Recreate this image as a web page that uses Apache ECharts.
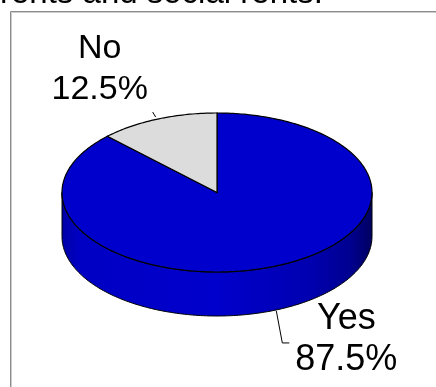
<!DOCTYPE html>
<html>
<head>
<meta charset="utf-8">
<style>
  html, body { margin: 0; padding: 0; background: #ffffff; }
  #chart { width: 436px; height: 387px; }
</style>
<script src="https://cdn.jsdelivr.net/npm/echarts@6/dist/echarts.min.js"></script>
</head>
<body>
<div id="chart"></div>
<script>
// Survey answers (share of respondents, %)
const categories = ['Yes', 'No'];
const shares = [87.5, 12.5];

// Pie drawing settings
const sliceColors = { Yes: '#0000CC', No: '#DCDCDC' };
const pie = { cx: 217, cy: 192.5, rx: 155, ry: 79.5, depth: 44 };
// label placement relative to the slice's anchor point
const labelOffset = { Yes: [70, 30], No: [-58, -50] };
const labelSize = { Yes: 36, No: 34 };
const leaderPath = { Yes: [[0, 1], [6, 33], [13, 33]], No: [[-2, -2], [-5, -7]] };

const total = shares.reduce((a, b) => a + b, 0);
const starts = [];
shares.reduce((acc, v, i) => { starts[i] = acc; return acc + v; }, 0);

// angle in degrees, clockwise from 12 o'clock
function ellipsePt(deg, dy) {
  const r = deg * Math.PI / 180;
  return [pie.cx + pie.rx * Math.sin(r), pie.cy - pie.ry * Math.cos(r) + (dy || 0)];
}
function arc(a, b, dy) {
  const pts = [];
  const n = Math.max(2, Math.ceil(Math.abs(b - a)));
  for (let k = 0; k <= n; k++) pts.push(ellipsePt(a + (b - a) * k / n, dy));
  return pts;
}

const chart = echarts.init(document.getElementById('chart'), null, { renderer: 'canvas' });

const sideFill = new echarts.graphic.LinearGradient(pie.cx - pie.rx, 0, pie.cx + pie.rx, 0, [
  { offset: 0, color: '#0000A8' },
  { offset: 0.06, color: '#0000C4' },
  { offset: 0.5, color: '#0000CC' },
  { offset: 0.8, color: '#0000B0' },
  { offset: 0.93, color: '#000090' },
  { offset: 1, color: '#000060' }
], true);

function renderItem(params, api) {
  const i = params.dataIndex;
  const name = categories[i];
  const value = api.value(1);
  const a0 = starts[i] / total * 360;
  const a1 = (starts[i] + value) / total * 360;
  const children = [];

  // front wall: only the part facing the viewer (90°..270°)
  const s0 = Math.max(a0, 90), s1 = Math.min(a1, 270);
  if (s1 > s0) {
    const top = arc(s0, s1, 0);
    const bottom = arc(s1, s0, pie.depth);
    children.push({
      type: 'polygon',
      shape: { points: top.concat(bottom) },
      style: { fill: sideFill, stroke: '#000000', lineWidth: 1 }
    });
  }

  // top face
  children.push({
    type: 'polygon',
    shape: { points: [[pie.cx, pie.cy]].concat(arc(a0, a1, 0)) },
    style: { fill: sliceColors[name], stroke: '#000000', lineWidth: 1.2 }
  });

  // label anchor at the mid angle, on the bottom rim when the rim faces us
  const mid = (a0 + a1) / 2;
  const front = mid > 90 && mid < 270;
  const anchor = ellipsePt(mid, front ? pie.depth : 0);
  children.push({
    type: 'polyline',
    shape: { points: leaderPath[name].map(p => [anchor[0] + p[0], anchor[1] + p[1]]) },
    style: { stroke: '#000000', lineWidth: 1, fill: null }
  });
  children.push({
    type: 'text',
    x: anchor[0] + labelOffset[name][0],
    y: anchor[1] + labelOffset[name][1],
    style: {
      text: name + '\n' + value.toFixed(1) + '%',
      font: labelSize[name] + 'px "Liberation Sans", Arial, sans-serif',
      fill: '#000000',
      align: 'center',
      verticalAlign: 'middle',
      lineHeight: 41
    }
  });

  return { type: 'group', children: children };
}

chart.setOption({
  animation: false,
  backgroundColor: '#ffffff',
  graphic: [
    {
      type: 'text', x: 0, y: -6,
      style: {
        text: 'rents and social rents.',
        font: '33px "Liberation Sans", Arial, sans-serif',
        fill: '#000000',
        verticalAlign: 'middle'
      }
    },
    {
      type: 'rect', shape: { x: 10.5, y: 11.5, width: 500, height: 500 },
      style: { fill: null, stroke: '#8C8C8C', lineWidth: 1 }
    },
    {
      type: 'rect', shape: { x: 11.5, y: 12.5, width: 500, height: 500 },
      style: { fill: null, stroke: '#CDCDCD', lineWidth: 1 }
    }
  ],
  series: [{
    type: 'custom',
    coordinateSystem: 'none',
    renderItem: renderItem,
    data: categories.map((c, i) => [i, shares[i]])
  }]
});
</script>
</body>
</html>
